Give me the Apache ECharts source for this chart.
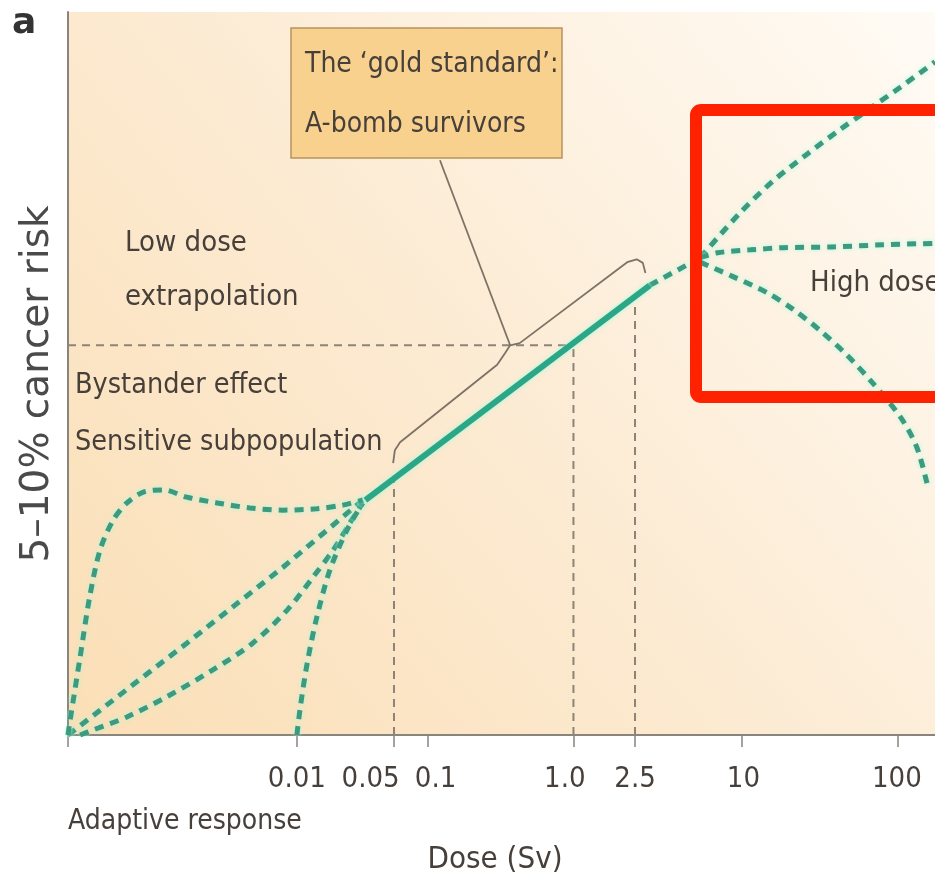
<!DOCTYPE html>
<html><head><meta charset="utf-8">
<script src="https://cdn.jsdelivr.net/npm/echarts@6/dist/echarts.min.js"></script>
<style>html,body{margin:0;padding:0;background:#fff}#c{width:935px;height:886px}</style>
</head><body><div id="c"></div>
<script>
// Schematic axis: x and y run 0..100 in "position on the schematic" units
const tickLabels = ['0.01', '0.05', '0.1', '1.0', '2.5', '10', '100'];
const tickPositions = [0, 26.4, 37.6, 41.5, 58.3, 65.4, 77.7, 95.7];
const labelPositions = [26.4, 34.9, 42.4, 57.3, 65.4, 77.9, 95.6];

// Dose-response curves (schematic units)
const lntSolid = [[34.3, 32.5], [67.1, 62.2]];
const lntExtension = [[67.1, 62.2], [72.9, 66.0]];
const highUpper = [[72.9, 66.0], [77.5, 72.2], [81.3, 76.6], [85.2, 80.3], [89.0, 83.7], [92.2, 86.4], [96.0, 89.6], [100, 93.1]];
const highPlateau = [[72.9, 66.0], [74.9, 66.7], [78.7, 67.1], [82.5, 67.4], [88.2, 67.5], [94.0, 67.8], [100, 68.0]];
const highDownturn = [[72.9, 65.4], [76.7, 63.4], [80.6, 61.2], [83.6, 58.9], [86.7, 56.0], [89.8, 52.6], [92.8, 48.7], [96.0, 44.0], [97.9, 39.8], [99.2, 34.2]];
const linearLow = [[0, 0], [13.7, 12.7], [24.8, 23.2], [34.0, 32.5]];
const sublinearLow = [[1.4, 0], [2.9, 0.7], [6.8, 2.5], [11.4, 5.3], [16.7, 9.0], [21.3, 12.7], [25.3, 17.3], [28.3, 21.9], [30.6, 25.6], [32.5, 29.3], [34.0, 32.1]];
const thresholdLow = [[26.4, 0], [26.8, 3.9], [27.6, 10.0], [28.7, 16.3], [30.2, 22.8], [32.2, 28.4], [34.0, 32.1]];
const supralinearLow = [[0, 0], [0.2, 1.7], [1.4, 10.8], [2.5, 19.1], [3.7, 25.6], [5.2, 29.7], [6.8, 32.1], [8.7, 33.6], [11.0, 33.9], [13.7, 32.9], [17.2, 32.1], [21.0, 31.4], [24.8, 31.1], [28.7, 31.3], [31.7, 31.8], [34.0, 32.5]];

// Reference (gray dashed) guides
const guideHorizontal = [[0, 53.9], [57.6, 53.9]];
const guide005 = [[37.6, 0], [37.6, 35.5]];
const guide10 = [[58.3, 0], [58.3, 54.0]];
const guide25 = [[65.4, 0], [65.4, 59.5]];

// Bracket and leader for the A-bomb survivors range
const bracket = [[37.5, 37.6], [37.7, 39.4], [38.3, 40.5], [49.5, 51.2], [50.4, 52.8], [51.0, 53.9], [52.1, 54.2], [64.5, 65.4], [65.6, 65.8], [66.3, 65.3], [66.6, 63.9]];
const leader = [[42.9, 79.5], [51.0, 53.9]];

const NARROW = '"Liberation Sans Narrow", "DejaVu Sans Condensed", "Roboto Condensed", "Liberation Sans", sans-serif';
const TXT = '#463f3a';
const TEAL = '#3d9a7e';

function dashed(data, smooth) {
  return {
    type: 'line', data: data, showSymbol: false, smooth: smooth ? 0.3 : false, silent: true, z: 3,
    lineStyle: { color: TEAL, width: 5, type: [9, 7], cap: 'butt', shadowColor: 'rgba(150,255,225,0.9)', shadowBlur: 4 }
  };
}
function guide(data) {
  return {
    type: 'line', data: data, showSymbol: false, silent: true, z: 2,
    lineStyle: { color: '#8c8479', width: 2, type: [8, 6] }
  };
}
function thin(data) {
  return {
    type: 'line', data: data, showSymbol: false, silent: true, z: 2,
    lineStyle: { color: '#7d7266', width: 1.8 }
  };
}

const chart = echarts.init(document.getElementById('c'), null, { renderer: 'canvas' });
chart.setOption({
  backgroundColor: '#ffffff',
  animation: false,
  grid: {
    left: 68, top: 12, right: 0, bottom: 151, show: true, borderWidth: 0,
    backgroundColor: new echarts.graphic.LinearGradient(0, 1, 1, 0, [
      { offset: 0, color: '#fbdfb6' }, { offset: 0.45, color: '#fcead1' }, { offset: 1, color: '#fffbf5' }
    ])
  },
  xAxis: {
    type: 'value', min: 0, max: 100,
    axisLine: { show: true, lineStyle: { color: '#8a857c', width: 2 } },
    axisTick: { show: true, customValues: tickPositions, length: 12, lineStyle: { color: '#8a857c', width: 1.5 } },
    axisLabel: {
      customValues: labelPositions, margin: 30,
      fontFamily: NARROW, fontSize: 29, color: TXT,
      formatter: function (v) { const i = labelPositions.indexOf(v); return i >= 0 ? tickLabels[i] : ''; }
    },
    splitLine: { show: false }
  },
  yAxis: {
    type: 'value', min: 0, max: 100,
    axisLine: { show: true, lineStyle: { color: '#8a857c', width: 2 } },
    axisTick: { show: false }, axisLabel: { show: false }, splitLine: { show: false }
  },
  series: [
    guide(guideHorizontal), guide(guide005), guide(guide10), guide(guide25),
    thin(bracket), thin(leader),
    dashed(linearLow, false), dashed(sublinearLow, true), dashed(thresholdLow, true), dashed(supralinearLow, true),
    dashed(lntExtension, false), dashed(highUpper, true), dashed(highPlateau, true), dashed(highDownturn, true),
    {
      type: 'line', data: lntSolid, showSymbol: false, silent: true, z: 4,
      lineStyle: { color: '#2ba687', width: 6, shadowColor: 'rgba(150,255,225,0.9)', shadowBlur: 4 }
    }
  ],
  graphic: [
    { type: 'text', left: 12, top: 6, style: { text: 'a', font: 'bold 36px "DejaVu Sans", sans-serif', fill: '#333' } },
    { type: 'text', x: 38, y: 384, rotation: Math.PI / 2,
      style: { text: '5–10% cancer risk', font: '39px "DejaVu Sans", sans-serif', fill: '#4a4a4a', textAlign: 'center', textVerticalAlign: 'middle' } },
    { type: 'rect', shape: { x: 291, y: 28, width: 271, height: 130 }, z: 5,
      style: { fill: '#f8d18f', stroke: '#b89260', lineWidth: 1.5 } },
    { type: 'text', x: 305, y: 65, z: 6, style: { text: 'The ‘gold standard’:', font: '28px ' + NARROW, fill: TXT, textVerticalAlign: 'middle' } },
    { type: 'text', x: 305, y: 125, z: 6, style: { text: 'A-bomb survivors', font: '28px ' + NARROW, fill: TXT, textVerticalAlign: 'middle' } },
    { type: 'text', x: 125, y: 243, style: { text: 'Low dose', font: '29px ' + NARROW, fill: TXT, textVerticalAlign: 'middle' } },
    { type: 'text', x: 125, y: 297, style: { text: 'extrapolation', font: '29px ' + NARROW, fill: TXT, textVerticalAlign: 'middle' } },
    { type: 'text', x: 75, y: 386, style: { text: 'Bystander effect', font: '28.5px ' + NARROW, fill: TXT, textVerticalAlign: 'middle' } },
    { type: 'text', x: 75, y: 443, style: { text: 'Sensitive subpopulation', font: '28.5px ' + NARROW, fill: TXT, textVerticalAlign: 'middle' } },
    { type: 'text', x: 810, y: 283, style: { text: 'High dose', font: '29px ' + NARROW, fill: TXT, textVerticalAlign: 'middle' } },
    { type: 'text', x: 68, y: 822, style: { text: 'Adaptive response', font: '28px ' + NARROW, fill: TXT, textVerticalAlign: 'middle' } },
    { type: 'text', x: 495, y: 860, style: { text: 'Dose (Sv)', font: '31px ' + NARROW, fill: TXT, textAlign: 'center', textVerticalAlign: 'middle' } },
    { type: 'rect', shape: { x: 696, y: 110, width: 260, height: 287, r: 5 }, z: 10,
      style: { fill: 'none', stroke: '#ff2200', lineWidth: 12 } }
  ]
});
</script>
</body></html>
